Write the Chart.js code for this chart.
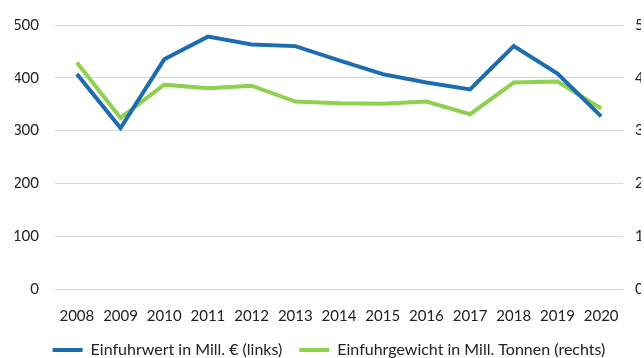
<!DOCTYPE html>
<html>
<head>
<meta charset="utf-8">
<script src="https://cdn.jsdelivr.net/npm/chart.js@4"></script>
<style>
  html, body { margin: 0; padding: 0; background: #fff; overflow: hidden; }
  #wrap { width: 641px; height: 358px; overflow: hidden; }
  #importChart { display: block; }
</style>
</head>
<body>
<div id="wrap"><canvas id="importChart" width="660" height="358"></canvas></div>
<script>
// Jahre (Kategorien)
const years = ['2008', '2009', '2010', '2011', '2012', '2013', '2014', '2015', '2016', '2017', '2018', '2019', '2020'];

// Einfuhrwert in Mill. € (linke Achse)
const importValue = [407, 305, 435, 478, 463, 460, 433, 407, 391, 378, 460, 408, 327];

// Einfuhrgewicht in Mill. Tonnen (rechte Achse)
const importWeight = [4.29, 3.24, 3.87, 3.80, 3.85, 3.55, 3.52, 3.51, 3.55, 3.31, 3.91, 3.93, 3.42];

const tickFont = {family: 'Lato, "Open Sans", sans-serif', size: 15};
const legendFont = {family: 'Lato, "Open Sans", sans-serif', size: 16};

function renderLineChart()
{
    const ctx = document.getElementById('importChart').getContext('2d');
    new Chart(ctx, {
        type: 'line',
        data: {
            labels: years,
            datasets: [
                {
                    label: 'Einfuhrwert in Mill. € (links)',
                    data: importValue,
                    borderColor: '#1d6cb0',
                    backgroundColor: '#1d6cb0',
                    borderWidth: 4,
                    pointRadius: 0,
                    tension: 0,
                    yAxisID: 'y'
                },
                {
                    label: 'Einfuhrgewicht in Mill. Tonnen (rechts)',
                    data: importWeight,
                    borderColor: '#90d04f',
                    backgroundColor: '#90d04f',
                    borderWidth: 4,
                    pointRadius: 0,
                    tension: 0,
                    yAxisID: 'y1'
                }
            ]
        },
        options: {
            responsive: false,
            animation: false,
            layout: {autoPadding: false, padding: {top: 21, left: 15, right: 17, bottom: -10}},
            plugins: {
                tooltip: {enabled: false},
                legend: {
                    position: 'bottom',
                    labels: {
                        font: legendFont,
                        color: '#222',
                        usePointStyle: true,
                        pointStyle: 'line',
                        pointStyleWidth: 30,
                        padding: 17
                    }
                }
            },
            scales: {
                x: {
                    offset: true,
                    grid: {display: false, drawTicks: false},
                    border: {display: false},
                    ticks: {font: tickFont, color: '#222', padding: 18, maxRotation: 0},
                    // labels sit lower than the legend spacing would allow,
                    // and the categories should use the full plot width
                    afterFit: function (scale)
                    {
                        scale.height -= 18;
                        scale.paddingLeft = 0;
                        scale.paddingRight = 0;
                    }
                },
                y: {
                    position: 'left',
                    min: 0,
                    max: 500,
                    ticks: {stepSize: 100, font: tickFont, color: '#222', padding: 16},
                    grid: {color: '#d9d9d9', drawTicks: false},
                    border: {display: false},
                    afterFit: function (scale)
                    {
                        scale.width = 40;
                    }
                },
                y1: {
                    position: 'right',
                    min: 0,
                    max: 5,
                    ticks: {stepSize: 1, font: tickFont, color: '#222', padding: 12},
                    grid: {display: false, drawTicks: false},
                    border: {display: false},
                    afterFit: function (scale)
                    {
                        scale.width = 20;
                    }
                }
            }
        }
    });
}

renderLineChart();
</script>
</body>
</html>
